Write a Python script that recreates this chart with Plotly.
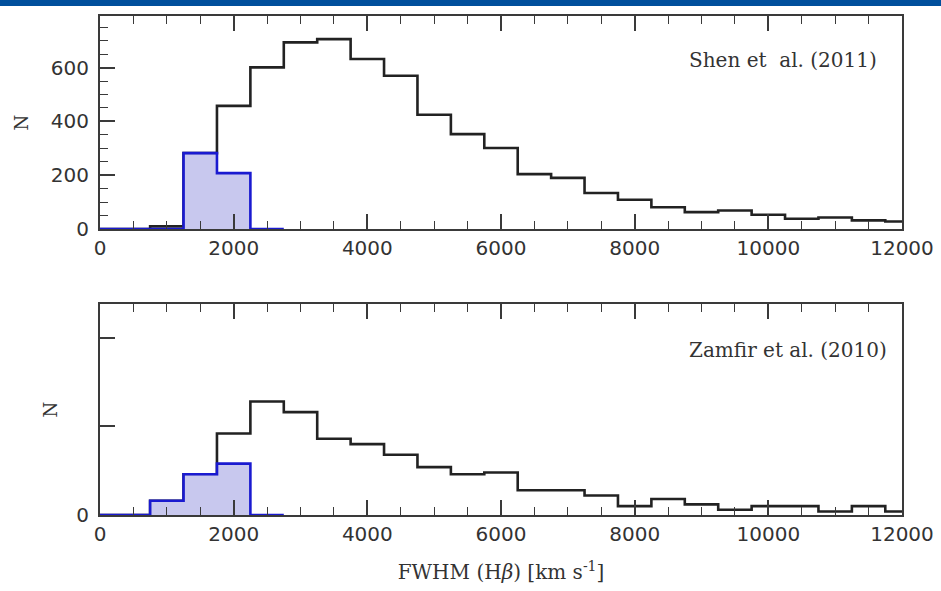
import plotly.graph_objects as go

# ---------------- data ----------------
bin_centers = [0, 500, 1000, 1500, 2000, 2500, 3000, 3500, 4000, 4500, 5000, 5500,
               6000, 6500, 7000, 7500, 8000, 8500, 9000, 9500, 10000, 10500, 11000, 11500, 12000]
bin_width = 500

shen_all = [0, 0, 10, 282, 458, 601, 694, 706, 632, 570, 425, 353,
            301, 204, 190, 134, 109, 81, 63, 69, 53, 38, 43, 32, 28]
shen_narrow = [0, 0, 0, 282, 208, 0]

zamfir_all = [0, 0, 8, 23, 46, 64, 58, 43, 40, 34, 27, 23,
              24, 14, 14, 11, 5, 9, 6, 3, 5, 5, 2, 5, 2]
zamfir_narrow = [0, 0, 8, 23, 29, 0]

x_ticks = [0, 2000, 4000, 6000, 8000, 10000, 12000]
x_ticktext = ["0", "2000", "4000", "6000", "8000", "10000", "12000"]
top_y_ticks = [0, 200, 400, 600]
bottom_y_ticks = [0]
bottom_y_unlabelled = [50, 100]


def step_xy(centers, counts, width):
    edges = [c - width / 2 for c in centers[:len(counts)]]
    edges.append(centers[len(counts) - 1] + width / 2)
    return edges, list(counts) + [counts[-1]]


BLACK = "#222222"
BLUE = "#1a1ad0"
FILL = "rgba(190,190,235,0.85)"
AX = "#3a3a3a"
TXT = "#333333"

fig = go.Figure()

for ya, xa, all_c, nar_c in [("y", "x", shen_all, shen_narrow),
                             ("y2", "x2", zamfir_all, zamfir_narrow)]:
    ex, ey = step_xy(bin_centers, all_c, bin_width)
    fig.add_trace(go.Scatter(x=ex, y=ey, mode="lines", line=dict(shape="hv", color=BLACK, width=2.6),
                             xaxis=xa, yaxis=ya, showlegend=False, hoverinfo="skip"))
    bx, by = step_xy(bin_centers, nar_c, bin_width)
    fig.add_trace(go.Scatter(x=bx, y=by, mode="lines", line=dict(shape="hv", color=BLUE, width=2.6),
                             fill="tozeroy", fillcolor=FILL,
                             xaxis=xa, yaxis=ya, showlegend=False, hoverinfo="skip"))

# empty traces so that the top (mirror) tick axes are drawn
fig.add_trace(go.Scatter(x=[], y=[], xaxis="x3", yaxis="y", showlegend=False, hoverinfo="skip"))
fig.add_trace(go.Scatter(x=[], y=[], xaxis="x4", yaxis="y2", showlegend=False, hoverinfo="skip"))

tickfont = dict(family="DejaVu Sans", size=20, color=TXT)
minor_x = dict(dtick=500, ticks="inside", ticklen=8, tickwidth=1.4, tickcolor=AX)
common_x = dict(range=[0, 12000], tickvals=x_ticks, ticktext=x_ticktext, ticks="inside", ticklen=15,
                tickwidth=1.6, tickcolor=AX, showline=True, linecolor=AX, linewidth=2, mirror=True,
                showgrid=False, zeroline=False, tickfont=tickfont, automargin=False,
                minor=minor_x)
top_x = dict(range=[0, 12000], tickvals=x_ticks, ticks="inside", ticklen=15, tickwidth=1.6,
             tickcolor=AX, showline=False, showgrid=False, zeroline=False, showticklabels=False,
             side="top", automargin=False, minor=minor_x)

fig.update_layout(
    width=941, height=591,
    margin=dict(l=100, r=39, t=16, b=76),
    paper_bgcolor="white", plot_bgcolor="white",
    xaxis=dict(common_x, domain=[0, 1], anchor="y"),
    xaxis3=dict(top_x, overlaying="x", anchor="y"),
    yaxis=dict(domain=[0.5731, 1], range=[0, 792], tickvals=top_y_ticks, ticks="inside",
               ticklen=15, tickwidth=1.6, tickcolor=AX, showline=True, linecolor=AX, linewidth=2,
               mirror=True, showgrid=False, zeroline=False, tickfont=tickfont,
               ticklabelstandoff=5, automargin=False,
               minor=dict(dtick=50, ticks="inside", ticklen=8, tickwidth=1.4, tickcolor=AX),
               title=dict(text="N", standoff=18,
                          font=dict(family="DejaVu Serif", size=18, color=TXT)),
               anchor="x"),
    xaxis2=dict(common_x, domain=[0, 1], anchor="y2",
                title=dict(text="FWHM (H<i>β</i>) [km s<sup>-1</sup>]", standoff=20,
                           font=dict(family="DejaVu Serif", size=20, color=TXT))),
    xaxis4=dict(top_x, overlaying="x2", anchor="y2"),
    yaxis2=dict(domain=[0, 0.4228], range=[0, 119], tickvals=bottom_y_ticks,
                ticks="inside", ticklen=15, tickwidth=1.6,
                tickcolor=AX, showline=True, linecolor=AX, linewidth=2, mirror=True,
                showgrid=False, zeroline=False, tickfont=tickfont, ticklabelstandoff=5,
                automargin=False,
                minor=dict(tickvals=bottom_y_unlabelled, ticks="inside", ticklen=15, tickwidth=1.6,
                           tickcolor=AX),
                title=dict(text="N", standoff=14,
                           font=dict(family="DejaVu Serif", size=18, color=TXT)),
                anchor="x2"),
    annotations=[
        dict(text="Shen et\u00a0\u00a0al. (2011)", xref="x", yref="y domain", x=11650, y=0.795,
             xanchor="right", yanchor="middle", showarrow=False,
             font=dict(family="DejaVu Serif", size=20, color=TXT)),
        dict(text="Zamfir et al. (2010)", xref="x2", yref="y2 domain", x=11800, y=0.78,
             xanchor="right", yanchor="middle", showarrow=False,
             font=dict(family="DejaVu Serif", size=20, color=TXT)),
    ],
    shapes=[
        dict(type="rect", xref="paper", yref="paper", x0=-0.2, x1=1.1,
             y0=(515 - 6) / 499, y1=(515 + 2) / 499, fillcolor="#004f9c", line=dict(width=0),
             layer="above"),
    ],
)

fig.write_html("out.html")
